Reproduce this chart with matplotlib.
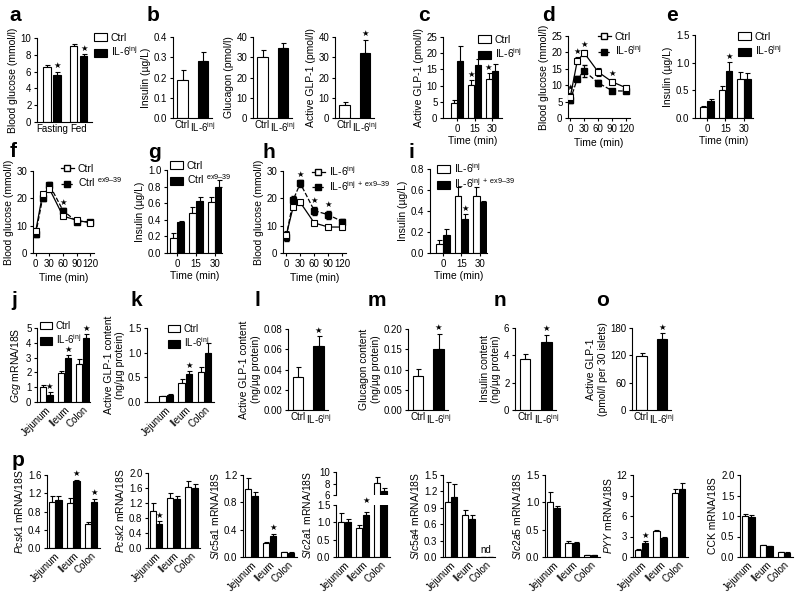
import matplotlib
matplotlib.use('Agg')
import matplotlib.pyplot as plt
from matplotlib.lines import Line2D
from matplotlib.patches import Patch
from matplotlib.ticker import FormatStrFormatter
import numpy as np

plt.rcParams['font.family'] = ['Liberation Sans', 'DejaVu Sans']
plt.rcParams['mathtext.fontset'] = 'custom'
plt.rcParams['mathtext.rm'] = 'Liberation Sans'
plt.rcParams['mathtext.it'] = 'Liberation Sans:italic'
plt.rcParams['font.size'] = 7

IL6 = r'IL-6$^{\mathregular{inj}}$'
IL6EX = r'IL-6$^{\mathregular{inj\ +\ ex9–39}}$'
CTRLEX = r'Ctrl $^{\mathregular{ex9–39}}$'
UG = 'Insulin (µg/L)'
BG = 'Blood glucose (mmol/l)'
TISSUES = ['Jejunum', 'Ileum', 'Colon']
TIMES3 = ['0', '15', '30']

# ── data ─────────────────────────────────────────────────────────────────────
# a
a_groups = ['Fasting', 'Fed']
a_ctrl, a_ctrl_err = [6.5, 9.0], [0.3, 0.3]
a_il6, a_il6_err = [5.6, 7.8], [0.35, 0.25]
a_il6_sig = [True, True]
# b
b_insulin, b_insulin_err = [0.19, 0.28], [0.045, 0.045]
b_glucagon, b_glucagon_err = [30.2, 34.5], [3.5, 2.5]
b_glp1, b_glp1_err = [6.5, 32.2], [1.2, 6.5]
b_glp1_sig = [False, True]
# c
c_ctrl, c_ctrl_err = [4.5, 10.3, 12.0], [1.0, 1.5, 2.0]
c_il6, c_il6_err = [17.5, 16.5, 14.5], [4.7, 1.7, 2.2]
c_ctrl_sig = [False, True, True]
# d
d_time = [0, 15, 30, 60, 90, 120]
d_ctrl, d_ctrl_err = [6.5, 17.5, 19.8, 14.0, 11.0, 9.2], [1.0, 1.0, 1.0, 1.2, 1.0, 0.5]
d_il6, d_il6_err = [5.5, 12.0, 14.3, 10.7, 8.3, 8.2], [0.8, 0.8, 1.8, 1.0, 0.5, 0.5]
d_sig = [True, True, True, False, True, False]
# e
e_ctrl, e_ctrl_err = [0.19, 0.50, 0.71], [0.03, 0.08, 0.13]
e_il6, e_il6_err = [0.30, 0.85, 0.71], [0.04, 0.16, 0.10]
e_il6_sig = [False, True, False]
# f
f_time = [0, 15, 30, 60, 90, 120]
f_ctrl, f_ctrl_err = [8.0, 21.5, 23.5, 13.5, 12.0, 11.0], [1.0, 0.8, 1.0, 0.8, 0.6, 0.8]
f_ex, f_ex_err = [7.0, 20.0, 25.0, 15.5, 11.5, 11.5], [1.0, 1.0, 0.8, 1.0, 0.6, 0.6]
f_sig = [False, False, False, True, False, False]
# g
g_ctrl, g_ctrl_err = [0.18, 0.48, 0.61], [0.06, 0.08, 0.07]
g_ex, g_ex_err = [0.37, 0.63, 0.80], [0.02, 0.05, 0.08]
# h
h_time = [0, 15, 30, 60, 90, 120]
h_il6, h_il6_err = [6.5, 17.0, 18.5, 11.0, 9.5, 9.5], [1.5, 1.0, 1.0, 0.6, 0.5, 0.6]
h_ex, h_ex_err = [6.0, 19.5, 25.5, 15.5, 14.0, 11.5], [1.5, 1.5, 1.2, 1.5, 1.5, 1.0]
h_sig = [False, False, True, True, True, False]
# i
i_il6, i_il6_err = [0.09, 0.54, 0.54], [0.03, 0.09, 0.09]
i_ex, i_ex_err = [0.17, 0.32, 0.49], [0.06, 0.05, 0.005]
i_ex_sig = [False, True, False]
# j
j_ctrl, j_ctrl_err = [1.0, 1.95, 2.55], [0.15, 0.15, 0.35]
j_il6, j_il6_err = [0.5, 2.95, 4.35], [0.15, 0.2, 0.25]
j_il6_sig = [True, True, True]
# k
k_ctrl, k_ctrl_err = [0.12, 0.38, 0.61], [0.01, 0.08, 0.09]
k_il6, k_il6_err = [0.15, 0.57, 1.0], [0.02, 0.05, 0.2]
k_il6_sig = [False, True, False]
# l, m, n, o
l_vals, l_err = [0.033, 0.063], [0.009, 0.010]
m_vals, m_err = [0.083, 0.150], [0.018, 0.038]
n_vals, n_err = [3.7, 5.0], [0.4, 0.5]
o_vals, o_err = [118, 155], [8, 13]
# p
p_pcsk1_ctrl, p_pcsk1_ctrl_err = [1.0, 0.98, 0.52], [0.15, 0.12, 0.06]
p_pcsk1_il6, p_pcsk1_il6_err = [1.05, 1.46, 1.01], [0.08, 0.04, 0.07]
p_pcsk1_sig = [False, True, True]
p_pcsk2_ctrl, p_pcsk2_ctrl_err = [1.0, 1.33, 1.63], [0.2, 0.13, 0.15]
p_pcsk2_il6, p_pcsk2_il6_err = [0.63, 1.30, 1.60], [0.08, 0.08, 0.12]
p_pcsk2_sig = [True, False, False]
p_slc5a1_ctrl, p_slc5a1_ctrl_err = [1.0, 0.21, 0.07], [0.15, 0.01, 0.005]
p_slc5a1_il6, p_slc5a1_il6_err = [0.90, 0.31, 0.065], [0.05, 0.03, 0.005]
p_slc5a1_sig = [False, True, False]
p_slc2a1_ctrl, p_slc2a1_ctrl_err = [1.0, 0.83, 8.1], [0.28, 0.1, 1.0]
p_slc2a1_il6, p_slc2a1_il6_err = [1.0, 1.2, 6.7], [0.1, 0.1, 0.5]
p_slc2a1_sig = [False, True, False]
p_slc5a4_ctrl, p_slc5a4_ctrl_err = [1.0, 0.77, 0.0], [0.37, 0.09, 0.0]
p_slc5a4_il6, p_slc5a4_il6_err = [1.1, 0.70, 0.0], [0.24, 0.06, 0.0]
p_slc2a5_ctrl, p_slc2a5_ctrl_err = [1.0, 0.25, 0.03], [0.18, 0.04, 0.005]
p_slc2a5_il6, p_slc2a5_il6_err = [0.90, 0.25, 0.03], [0.04, 0.02, 0.005]
p_pyy_ctrl, p_pyy_ctrl_err = [1.0, 3.8, 9.3], [0.1, 0.2, 0.6]
p_pyy_il6, p_pyy_il6_err = [2.0, 2.8, 10.0], [0.3, 0.2, 0.9]
p_pyy_sig = [True, False, False]
p_cck_ctrl, p_cck_ctrl_err = [1.0, 0.29, 0.11], [0.04, 0.01, 0.01]
p_cck_il6, p_cck_il6_err = [0.97, 0.26, 0.10], [0.06, 0.01, 0.01]

# ── helpers ──────────────────────────────────────────────────────────────────
W, H = 800, 596
fig = plt.figure(figsize=(8, 5.96), dpi=100)


def px_axes(x0, y0, x1, y1):
    ax = fig.add_axes([x0 / W, 1 - y1 / H, (x1 - x0) / W, (y1 - y0) / H])
    for s in ['top', 'right']:
        ax.spines[s].set_visible(False)
    for s in ['left', 'bottom']:
        ax.spines[s].set_linewidth(0.8)
    ax.tick_params(direction='out', length=2.5, width=0.8, labelsize=7, pad=1.5)
    return ax


def letter(x, y, s):
    fig.text(x / W, 1 - y / H, s, fontsize=15, fontweight='bold', va='baseline')


def yaxis(ax, ticks, fmt, label):
    ax.set_ylim(ticks[0], ticks[-1])
    ax.set_yticks(ticks)
    ax.yaxis.set_major_formatter(FormatStrFormatter(fmt))
    ax.set_ylabel(label, fontsize=7.5, labelpad=2)


def star(ax, x, top):
    lo, hi = ax.get_ylim()
    ax.text(x, top + 0.02 * (hi - lo), '★', ha='center', va='bottom',
            fontsize=6, family='DejaVu Sans')


def bars(ax, xs, vals, errs, color, width, sig=None):
    ax.bar(xs, vals, width, color=color, edgecolor='black', lw=0.8, zorder=2)
    ax.errorbar(xs, vals, yerr=[np.zeros(len(vals)), errs], fmt='none',
                ecolor='black', elinewidth=0.8, capsize=1.8, capthick=0.8, zorder=1)
    if sig is not None:
        for x, v, e, s in zip(xs, vals, errs, sig):
            if s:
                star(ax, x, v + e)


def grouped(ax, labels, ctrl, ctrl_e, trt, trt_e, xlim, ctrl_sig=None, trt_sig=None,
            rot=False, width=0.34, off=0.19):
    x = np.arange(len(labels))
    bars(ax, x - off, ctrl, ctrl_e, 'white', width, ctrl_sig)
    bars(ax, x + off, trt, trt_e, 'black', width, trt_sig)
    ax.set_xlim(*xlim)
    ax.set_xticks(x)
    if rot:
        ax.set_xticklabels(labels, rotation=45, ha='right', rotation_mode='anchor', fontsize=7)
        ax.tick_params(axis='x', length=0, pad=2)
    else:
        ax.set_xticklabels(labels)


def pair(ax, vals, errs, sig=None):
    x = np.arange(2)
    ax.bar(x, vals, 0.5, color=['white', 'black'], edgecolor='black', lw=0.8, zorder=2)
    ax.errorbar(x, vals, yerr=[np.zeros(2), errs], fmt='none', ecolor='black',
                elinewidth=0.8, capsize=1.8, capthick=0.8, zorder=1)
    if sig is not None:
        for xi, v, e, s in zip(x, vals, errs, sig):
            if s:
                star(ax, xi, v + e)
    ax.set_xlim(-0.47, 1.45)
    ax.set_xticks(x)
    ax.set_xticklabels(['Ctrl', IL6])
    ax.tick_params(axis='x', length=0)


def lines(ax, t, a, ae, b, be, sig, xlim):
    ax.errorbar(t, a, yerr=ae, color='black', lw=0.9, marker='s', ms=4, mfc='white',
                mec='black', mew=0.8, capsize=1.8, elinewidth=0.8, zorder=3)
    ax.errorbar(t, b, yerr=be, color='black', lw=0.9, ls='--', marker='s', ms=4,
                mfc='black', mec='black', capsize=1.8, elinewidth=0.8, zorder=2)
    for ti, va, ea, vb, eb, s in zip(t, a, ae, b, be, sig):
        if s:
            star(ax, ti, max(va + ea, vb + eb))
    ax.set_xlim(*xlim)
    ax.set_xticks([0, 30, 60, 90, 120])
    ax.set_xlabel('Time (min)', fontsize=7.5, labelpad=3)


def legend_at(ax, handles, labels, x, y, size=7.5):
    ax.legend(handles, labels, loc='upper left', bbox_to_anchor=(x / W, 1 - y / H),
              bbox_transform=fig.transFigure, frameon=False, fontsize=size,
              handlelength=1.2, handleheight=0.8, handletextpad=0.4,
              labelspacing=0.15, borderpad=0, borderaxespad=0)


BAR_H = [Patch(facecolor='white', edgecolor='black', lw=0.8),
         Patch(facecolor='black', edgecolor='black', lw=0.8)]
LINE_H = [Line2D([], [], color='black', lw=0.9, marker='s', ms=4, mfc='white', mec='black'),
          Line2D([], [], color='black', lw=0.9, ls='--', marker='s', ms=4, mfc='black')]

# ── row 1 ────────────────────────────────────────────────────────────────────
ax = px_axes(37, 38, 92, 122)
grouped(ax, a_groups, a_ctrl, a_ctrl_err, a_il6, a_il6_err, (-0.57, 1.5),
        trt_sig=a_il6_sig, width=0.28)
ax.tick_params(axis='x', length=0)
yaxis(ax, [0, 2, 4, 6, 8, 10], '%d', BG)
legend_at(ax, BAR_H, ['Ctrl', IL6], 94, 33)
letter(9, 21, 'a')

ax = px_axes(173, 37, 212, 118)
pair(ax, b_insulin, b_insulin_err)
yaxis(ax, [0, 0.1, 0.2, 0.3, 0.4], '%.1f', UG)
letter(147, 21, 'b')

ax = px_axes(253, 37, 292, 118)
pair(ax, b_glucagon, b_glucagon_err)
yaxis(ax, [0, 10, 20, 30, 40], '%d', 'Glucagon (pmol/l)')

ax = px_axes(335, 37, 374, 118)
pair(ax, b_glp1, b_glp1_err, b_glp1_sig)
yaxis(ax, [0, 10, 20, 30, 40], '%d', 'Active GLP-1 (pmol/l)')

ax = px_axes(443, 37, 502, 118)
grouped(ax, TIMES3, c_ctrl, c_ctrl_err, c_il6, c_il6_err, (-0.8, 2.57), ctrl_sig=c_ctrl_sig)
yaxis(ax, [0, 5, 10, 15, 20, 25], '%d', 'Active GLP-1 (pmol/l)')
ax.set_xlabel('Time (min)', fontsize=7.5, labelpad=2)
legend_at(ax, BAR_H, ['Ctrl', IL6], 478, 35)
letter(418, 21, 'c')

ax = px_axes(568, 36, 630, 118)
lines(ax, d_time, d_ctrl, d_ctrl_err, d_il6, d_il6_err, d_sig, (-5, 128))
yaxis(ax, [0, 5, 10, 15, 20, 25], '%d', BG)
legend_at(ax, LINE_H, ['Ctrl', IL6], 598, 32)
letter(542, 21, 'd')

ax = px_axes(695, 35, 753, 118)
grouped(ax, TIMES3, e_ctrl, e_ctrl_err, e_il6, e_il6_err, (-0.65, 2.49), trt_sig=e_il6_sig)
yaxis(ax, [0, 0.5, 1.0, 1.5], '%.1f', UG)
ax.set_xlabel('Time (min)', fontsize=7.5, labelpad=2)
legend_at(ax, BAR_H, ['Ctrl', IL6], 738, 32)
letter(666, 21, 'e')

# ── row 2 ────────────────────────────────────────────────────────────────────
ax = px_axes(33, 171, 94, 253)
lines(ax, f_time, f_ctrl, f_ctrl_err, f_ex, f_ex_err, f_sig, (-6, 128))
yaxis(ax, [0, 10, 20, 30], '%d', BG)
legend_at(ax, LINE_H, ['Ctrl', CTRLEX], 61, 164)
letter(10, 157, 'f')

ax = px_axes(167, 170, 222, 253)
grouped(ax, TIMES3, g_ctrl, g_ctrl_err, g_ex, g_ex_err, (-0.53, 2.37))
yaxis(ax, [0, 0.2, 0.4, 0.6, 0.8, 1.0], '%.1f', UG)
ax.set_xlabel('Time (min)', fontsize=7.5, labelpad=2)
legend_at(ax, BAR_H, ['Ctrl', CTRLEX], 170, 161)
letter(148, 158, 'g')

ax = px_axes(283, 171, 346, 253)
lines(ax, h_time, h_il6, h_il6_err, h_ex, h_ex_err, h_sig, (-7, 128))
yaxis(ax, [0, 10, 20, 30], '%d', BG)
legend_at(ax, LINE_H, [IL6, IL6EX], 312, 164)
letter(262, 158, 'h')

ax = px_axes(430, 169, 487, 253)
grouped(ax, TIMES3, i_il6, i_il6_err, i_ex, i_ex_err, (-0.7, 2.38), trt_sig=i_ex_sig)
yaxis(ax, [0, 0.2, 0.4, 0.6, 0.8], '%.1f', UG)
ax.set_xlabel('Time (min)', fontsize=7.5, labelpad=2)
legend_at(ax, BAR_H, [IL6, IL6EX], 437, 161)
letter(408, 158, 'i')

# ── row 3 ────────────────────────────────────────────────────────────────────
ax = px_axes(37, 328, 90, 402)
grouped(ax, TISSUES, j_ctrl, j_ctrl_err, j_il6, j_il6_err, (-0.5, 2.4),
        trt_sig=j_il6_sig, rot=True)
yaxis(ax, [0, 1, 2, 3, 4, 5], '%d', r'$\mathit{Gcg}$ mRNA/18S')
legend_at(ax, BAR_H, ['Ctrl', IL6], 40, 321, size=7)
letter(11, 306, 'j')

ax = px_axes(147, 328, 214, 402)
grouped(ax, TISSUES, k_ctrl, k_ctrl_err, k_il6, k_il6_err, (-1.0, 2.5),
        trt_sig=k_il6_sig, rot=True)
yaxis(ax, [0, 0.5, 1.0, 1.5], '%.1f', 'Active GLP-1 content\n(ng/µg protein)')
legend_at(ax, BAR_H, ['Ctrl', IL6], 168, 324, size=7)
letter(130, 306, 'k')

ax = px_axes(288, 329, 328, 410)
pair(ax, l_vals, l_err, [False, True])
yaxis(ax, [0, 0.02, 0.04, 0.06, 0.08], '%.2f', 'Active GLP-1 content\n(ng/µg protein)')
letter(255, 306, 'l')

ax = px_axes(408, 329, 448, 410)
pair(ax, m_vals, m_err, [False, True])
yaxis(ax, [0, 0.05, 0.10, 0.15, 0.20], '%.2f', 'Glucagon content\n(ng/µg protein)')
letter(368, 306, 'm')

ax = px_axes(515, 328, 556, 410)
pair(ax, n_vals, n_err, [False, True])
yaxis(ax, [0, 2, 4, 6], '%d', 'Insulin content\n(ng/µg protein)')
letter(494, 306, 'n')

ax = px_axes(632, 328, 671, 410)
pair(ax, o_vals, o_err, [False, True])
yaxis(ax, [0, 60, 120, 180], '%d', 'Active GLP-1\n(pmol/l per 30 islets)')
letter(596, 306, 'o')

# ── row 4 (p) ────────────────────────────────────────────────────────────────
P_XLIM = (-0.45, 2.5)


def p_panel(rect, ctrl, ce, trt, te, ticks, fmt, label, sig=None):
    a = px_axes(*rect)
    grouped(a, TISSUES, ctrl, ce, trt, te, P_XLIM, trt_sig=sig, rot=True)
    yaxis(a, ticks, fmt, label)
    return a


p_panel((47, 475, 100, 548), p_pcsk1_ctrl, p_pcsk1_ctrl_err, p_pcsk1_il6, p_pcsk1_il6_err,
        [0, 0.4, 0.8, 1.2, 1.6], '%.1f', r'$\mathit{Pcsk1}$ mRNA/18S', p_pcsk1_sig)
p_panel((148, 473, 200, 548), p_pcsk2_ctrl, p_pcsk2_ctrl_err, p_pcsk2_il6, p_pcsk2_il6_err,
        [0, 0.4, 0.8, 1.2, 1.6, 2.0], '%.1f', r'$\mathit{Pcsk2}$ mRNA/18S', p_pcsk2_sig)
p_panel((243, 475, 297, 557), p_slc5a1_ctrl, p_slc5a1_ctrl_err, p_slc5a1_il6, p_slc5a1_il6_err,
        [0, 0.4, 0.8, 1.2], '%.1f', r'$\mathit{Slc5a1}$ mRNA/18S', p_slc5a1_sig)

# Slc2a1 with broken axis
ax_lo = px_axes(336, 505, 390, 557)
grouped(ax_lo, TISSUES, p_slc2a1_ctrl, p_slc2a1_ctrl_err, p_slc2a1_il6, p_slc2a1_il6_err,
        P_XLIM, trt_sig=[s and v + e < 1.5 for s, v, e in
                         zip(p_slc2a1_sig, p_slc2a1_il6, p_slc2a1_il6_err)], rot=True)
yaxis(ax_lo, [0, 0.5, 1.0, 1.5], '%.1f', '')
ax_hi = px_axes(336, 472, 390, 495)
grouped(ax_hi, TISSUES, p_slc2a1_ctrl, p_slc2a1_ctrl_err, p_slc2a1_il6, p_slc2a1_il6_err, P_XLIM)
yaxis(ax_hi, [6, 8, 10], '%d', '')
ax_hi.spines['bottom'].set_visible(False)
ax_hi.set_xticks([])
fig.text(307 / W, 1 - 515 / H, r'$\mathit{Slc2a1}$ mRNA/18S', rotation=90,
         ha='center', va='center', fontsize=7.5)

ax = p_panel((443, 475, 495, 557), p_slc5a4_ctrl, p_slc5a4_ctrl_err, p_slc5a4_il6,
             p_slc5a4_il6_err, [0, 0.3, 0.6, 0.9, 1.2, 1.5], '%.1f',
             r'$\mathit{Slc5a4}$ mRNA/18S')
ax.text(2, 0.04, 'nd', ha='center', va='bottom', fontsize=7)

p_panel((545, 475, 600, 557), p_slc2a5_ctrl, p_slc2a5_ctrl_err, p_slc2a5_il6, p_slc2a5_il6_err,
        [0, 0.5, 1.0, 1.5], '%.1f', r'$\mathit{Slc2a5}$ mRNA/18S')
p_panel((633, 475, 688, 557), p_pyy_ctrl, p_pyy_ctrl_err, p_pyy_il6, p_pyy_il6_err,
        [0, 3, 6, 9, 12], '%d', r'$\mathit{PYY}$ mRNA/18S', p_pyy_sig)
p_panel((740, 475, 793, 557), p_cck_ctrl, p_cck_ctrl_err, p_cck_il6, p_cck_il6_err,
        [0, 0.5, 1.0, 1.5, 2.0], '%.1f', 'CCK mRNA/18S')
letter(12, 466, 'p')

fig.savefig('out.png', dpi=100)
